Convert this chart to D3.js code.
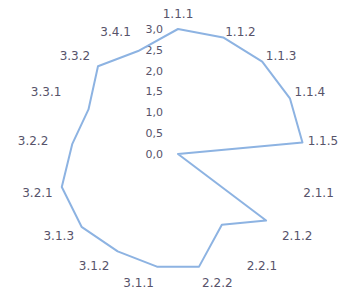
<!DOCTYPE html>
<html>
<head>
<meta charset="utf-8">
<script src="https://cdn.jsdelivr.net/npm/d3@7"></script>
<style>
  body { margin: 0; background: #fff; }
  text { font-family: "DejaVu Sans", sans-serif; fill: #57536a; }
</style>
</head>
<body>
<svg id="chart"></svg>
<script>
//////////////// Daten ////////////////////
const kategorien = ["1.1.1", "1.1.2", "1.1.3", "1.1.4", "1.1.5", "2.1.1", "2.1.2", "2.2.1", "2.2.2",
  "3.1.1", "3.1.2", "3.1.3", "3.2.1", "3.2.2", "3.3.1", "3.3.2", "3.4.1"];
const werte = [3.0, 3.0, 3.0, 3.0, 3.0, 0.0, 2.65, 2.0, 2.75,
  2.75, 2.75, 2.9, 2.9, 2.55, 2.4, 2.85, 2.65];
const ticks = [0, 0.5, 1.0, 1.5, 2.0, 2.5, 3.0];

//////////////// Konstanten ////////////////////
const width = 339, height = 289,
  cx = 178, cy = 154,
  radius = 125;

const svg = d3.select("#chart")
  .attr("width", width)
  .attr("height", height);

const r = d3.scaleLinear().domain([0, 3]).range([0, radius]);
const winkel = d3.scaleLinear().domain([0, kategorien.length]).range([0, 2 * Math.PI]);

const g = svg.append("g").attr("transform", "translate(" + cx + "," + cy + ")");

// Achsenbeschriftung (Skala)
g.selectAll("text.tick")
  .data(ticks)
  .enter()
  .append("text")
  .attr("class", "tick")
  .attr("x", -15)
  .attr("y", function(d) { return -r(d); })
  .attr("dy", "0.35em")
  .attr("text-anchor", "end")
  .style("font-size", "11px")
  .text(function(d) { return d3.format(".1f")(d).replace(".", ","); });

// Linie
const linie = d3.lineRadial()
  .angle(function(d, i) { return winkel(i); })
  .radius(function(d) { return r(d); })
  .curve(d3.curveLinearClosed);

g.append("path")
  .attr("d", linie(werte))
  .attr("fill", "none")
  .attr("stroke", "#8db3e2")
  .attr("stroke-width", 2)
  .attr("stroke-linejoin", "round");

// Kategorien
const hw = 15.5, hh = 6, rx = 130, ry = 125;
g.selectAll("text.kat")
  .data(kategorien)
  .enter()
  .append("text")
  .attr("class", "kat")
  .attr("x", function(d, i) {
    const s = Math.sin(winkel(i));
    return rx * s + hw * Math.sign(s) * Math.min(1, Math.abs(s) / 0.18);
  })
  .attr("y", function(d, i) {
    const s = Math.sin(winkel(i)), c = Math.cos(winkel(i));
    let y = -ry * c - hh * Math.sign(c) * Math.min(1, Math.abs(c) / 0.4);
    // oberste Kategorie ueber die Skalenbeschriftung schieben
    if (Math.abs(s) < 0.05 && c > 0) y -= 9;
    return y;
  })
  .attr("dy", "0.35em")
  .attr("text-anchor", "middle")
  .style("font-size", "12px")
  .text(function(d) { return d; });
</script>
</body>
</html>
